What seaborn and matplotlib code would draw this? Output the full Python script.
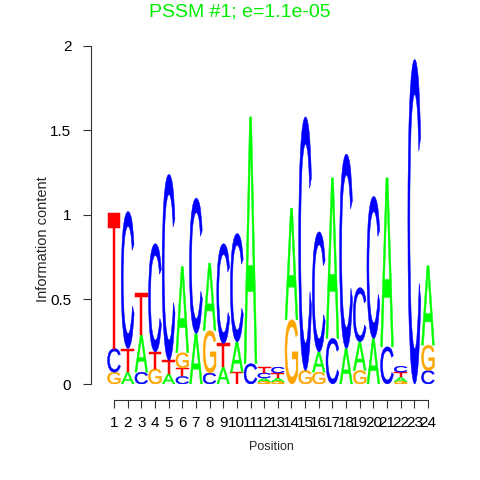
import numpy as np
import pandas as pd
import seaborn as sns
import matplotlib
matplotlib.use("Agg")
import matplotlib.pyplot as plt
from matplotlib.textpath import TextPath
from matplotlib.font_manager import FontProperties
from matplotlib.patches import PathPatch
from matplotlib.transforms import Affine2D

# ---- data (information content per letter, per position) ----
positions = list(range(1, 25))
A = [0.00, 0.07, 0.22, 0.00, 0.06, 0.51, 0.30, 0.40, 0.10, 0.18, 1.46, 0.020,
     0.020, 0.66, 0.00, 0.12, 0.95, 0.21, 0.17, 0.27, 1.00, 0.025, 0.00, 0.47]
C = [0.14, 0.81, 0.07, 0.64, 1.10, 0.045, 0.80, 0.065, 0.59, 0.64, 0.12, 0.030,
     0.035, 0.00, 1.50, 0.71, 0.27, 1.15, 0.32, 0.84, 0.22, 0.035, 1.92, 0.08]
G = [0.07, 0.00, 0.00, 0.09, 0.00, 0.09, 0.00, 0.25, 0.00, 0.00, 0.00, 0.015,
     0.015, 0.38, 0.08, 0.07, 0.00, 0.00, 0.08, 0.00, 0.00, 0.015, 0.00, 0.15]
T = [0.80, 0.14, 0.25, 0.10, 0.08, 0.05, 0.00, 0.00, 0.14, 0.07, 0.00, 0.035,
     0.030, 0.00, 0.00, 0.00, 0.00, 0.00, 0.00, 0.00, 0.00, 0.030, 0.00, 0.00]
letters = ["A", "C", "G", "T"]
colors = {"A": "#00FF00", "C": "#0000FF", "G": "#FFA500", "T": "#FF0000"}
yticks = [0, 0.5, 1, 1.5, 2]
ytick_labels = ["0", "0.5", "1", "1.5", "2"]
title = "PSSM #1; e=1.1e-05"

df = pd.DataFrame({"pos": positions, "A": A, "C": C, "G": G, "T": T})

sns.set_theme(style="white")
plt.rcParams["font.family"] = ["Liberation Sans", "DejaVu Sans"]

fig = plt.figure(figsize=(4.8, 4.8), dpi=100)
ax = fig.add_axes([0.2233, 0.2, 0.6825, 0.7042])

fp = FontProperties(family="Liberation Sans", weight="normal")
letter_paths = {}
for L in letters:
    p = TextPath((0, 0), L, size=1, prop=fp)
    letter_paths[L] = p

width = 0.94
for _, row in df.iterrows():
    x = row["pos"]
    stack = sorted([(row[L], L) for L in letters if row[L] > 0])
    y0 = 0.0
    for h, L in stack:
        p = letter_paths[L]
        ext = p.get_extents()
        tr = (Affine2D().translate(-ext.x0, -ext.y0)
              .scale(width / ext.width, h / ext.height)
              .translate(x - width / 2, y0))
        patch = PathPatch(tr.transform_path(p), facecolor=colors[L],
                          edgecolor=colors[L], lw=0.35)
        ax.add_patch(patch)
        y0 += h

ax.set_xlim(0.5, 24.5)
ax.set_ylim(0, 2)
ax.set_xticks(positions)
ax.set_xticklabels([str(p) for p in positions], fontsize=8.7)
ax.set_yticks(yticks)
ax.set_yticklabels(ytick_labels, fontsize=9)
ax.tick_params(axis="both", which="both", direction="out", length=5.8,
               width=0.8, color="#333333", labelcolor="black",
               left=True, bottom=True)
ax.tick_params(axis="y", pad=8)
ax.tick_params(axis="x", pad=6)
sns.despine(ax=ax, offset={"left": 12, "bottom": 11.5}, trim=True)
for s in ["left", "bottom"]:
    ax.spines[s].set_color("#333333")
    ax.spines[s].set_linewidth(0.8)
ax.set_xlabel("Position", fontsize=9, labelpad=8)
ax.set_ylabel("Information content", fontsize=10.5)
ax.yaxis.set_label_coords(-0.175, 0.43)
fig.text(0.5, 0.975, title, color="#00EE00", fontsize=14, ha="center", va="center")
fig.savefig("out.png", dpi=100)
